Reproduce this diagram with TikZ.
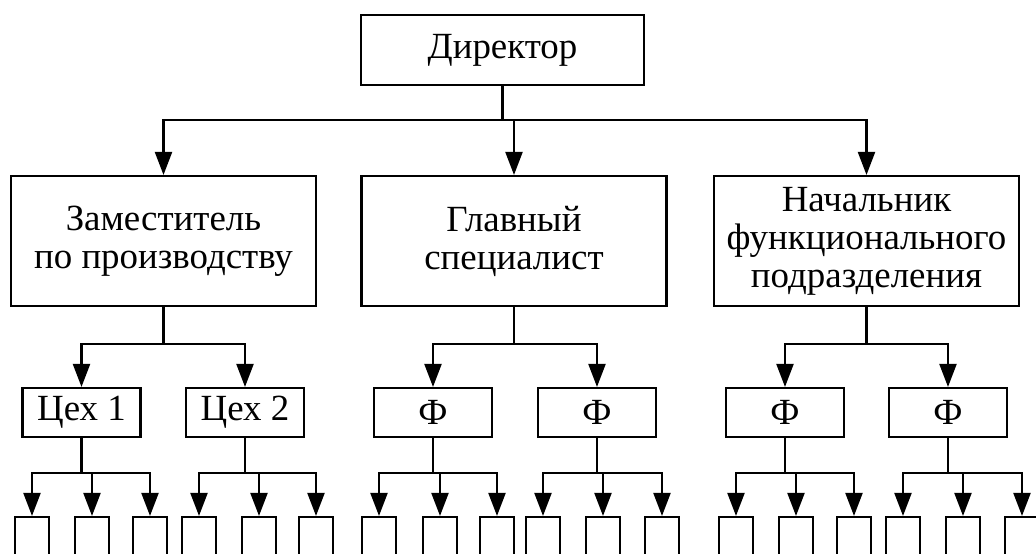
\documentclass[tikz,border=0pt]{standalone}
\usepackage{fontspec}
\setmainfont{Liberation Serif}
\usetikzlibrary{arrows.meta}

\begin{document}
\begin{tikzpicture}[x=0.02cm,y=-0.02cm,line width=1.2pt,
    >={Triangle[length=0.46cm,width=0.34cm]},
    every node/.style={font=\fontsize{21}{21.6}\selectfont},
    boss/.style={draw,minimum width=5.66cm,minimum height=1.4cm},
    deputy/.style={draw,align=center,minimum width=6.1cm,minimum height=2.6cm},
    unit/.style={draw,minimum width=2.36cm,minimum height=0.98cm,inner sep=0pt},
    leaf/.style={draw,minimum width=0.68cm,minimum height=0.9cm,inner sep=0pt}]
            \useasboundingbox (0,0) rectangle (1036,554);
            \clip (0,0) rectangle (1036,554);
            % top
            \node[boss] (dir) at (502.5,50) {Директор};
            % second row
            \node[deputy] (zam) at (163.5,241) {Заместитель\\по производству};
            \node[deputy] (glav) at (514,241) {Главный\\специалист};
            \node[deputy] (nach) at (866.5,241) {Начальник\\функционального\\подразделения};
            \draw (dir.south) -- ++(0,34) coordinate (dj);
            \draw[->] (dj) -| (zam.north);
            \draw[->] (dj) -| (glav.north);
            \draw[->] (dj) -| (nach.north);
            % third row
            \node[unit] (c1) at (81.5,412.5) {Цех 1};
            \node[unit] (c2) at (245,412.5) {Цех 2};
            \node[unit] (f1) at (433,412.5) {Ф};
            \node[unit] (f2) at (597,412.5) {Ф};
            \node[unit] (f3) at (785,412.5) {Ф};
            \node[unit] (f4) at (948,412.5) {Ф};
            \draw (zam.south) -- ++(0,37) coordinate (zj);
            \draw[->] (zj) -| (c1.north);
            \draw[->] (zj) -| (c2.north);
            \draw (glav.south) -- ++(0,37) coordinate (gj);
            \draw[->] (gj) -| (f1.north);
            \draw[->] (gj) -| (f2.north);
            \draw (nach.south) -- ++(0,37) coordinate (nj);
            \draw[->] (nj) -| (f3.north);
            \draw[->] (nj) -| (f4.north);
            % bottom row (cut off by the lower edge)
            \foreach \u/\a/\b/\c in {c1/32/92/150, c2/199/259/316, f1/379/440/497,
                                     f2/543/603/662, f3/736/796/854, f4/903/963/1022} {
                \node[leaf] (\u a) at (\a,539.5) {};
                \node[leaf] (\u b) at (\b,539.5) {};
                \node[leaf] (\u c) at (\c,539.5) {};
                \draw (\u.south) -- ++(0,35) coordinate (\u j);
                \draw[->] (\u j) -| (\u a.north);
                \draw[->] (\u j) -| (\u b.north);
                \draw[->] (\u j) -| (\u c.north);
            }
        \end{tikzpicture}
\end{document}
